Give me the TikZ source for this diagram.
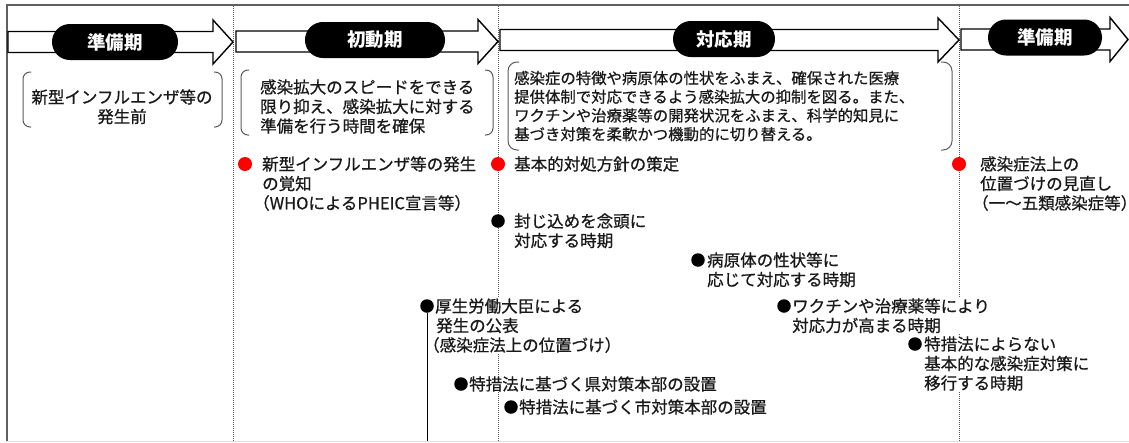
\documentclass[tikz,border=0pt]{standalone}
\usepackage{fontspec}
\setmainfont{Noto Sans CJK JP}
\newfontfamily\medfont{Noto Sans CJK JP}[FakeBold=0.7]
\newcommand\Lb[1]{\vtop{\let\\\cr\halign{##\hfil\cr#1\crcr}}}
\newcommand\Cb[1]{\vtop{\let\\\cr\halign{\hfil##\hfil\cr#1\crcr}}}
\definecolor{frm}{HTML}{606060}
\definecolor{brk}{HTML}{5A5A5A}
\tikzset{
  arr/.style={draw=black, fill=white, line width=1.4pt, line join=miter},
  pill/.style={fill=black, rounded corners=17.9pt, minimum height=36pt, inner sep=0pt,
    text=white, font={\fontsize{18.5}{20}\selectfont\bfseries}},
  txt/.style={inner sep=0pt, fill=white, text=black!90, font={\medfont\fontsize{16.5}{19.5}\selectfont}},
  txts/.style={inner sep=0pt, text=black!90, font={\medfont\fontsize{15.4}{18.7}\selectfont}},
  rdot/.style={circle, fill=red, minimum size=14pt, inner sep=0pt},
  bdot/.style={circle, fill=black, minimum size=13.5pt, inner sep=0pt},
  dotline/.style={draw=gray!70!black, line width=0.7pt, dash pattern=on 1pt off 1pt},
  bracket/.style={draw=brk, line width=1pt},
}
\begin{document}
\begin{tikzpicture}[x=1pt, y=-1pt]
\useasboundingbox (0,0) rectangle (1129,442);
% frame
\draw[frm, line width=2pt] (7,4.5) -- (7,441);
\draw[frm, line width=1.5pt] (6,5) -- (1129,5);
\draw[gray!25, line width=1pt] (7,441.5) -- (1129,441.5);
% dotted separators
\draw[dotline] (233,6) -- (233,441);
\draw[dotline] (498,6) -- (498,441);
\draw[dotline] (959,6) -- (959,441);
% arrows
\draw[arr] (8,31.5) -- (213,31.5) -- (213,20) -- (233,42) -- (213,64) -- (213,52.5) -- (8,52.5) -- cycle;
\draw[arr] (236,31) -- (478,31) -- (478,19.5) -- (498,41.5) -- (478,63.5) -- (478,52) -- (236,52) -- cycle;
\draw[arr] (500,29.5) -- (938,29.5) -- (938,18) -- (959,40) -- (938,62) -- (938,50.5) -- (500,50.5) -- cycle;
\draw[arr] (961,29) -- (1110,29) -- (1110,17.5) -- (1128,39.5) -- (1110,61.5) -- (1110,50) -- (961,50) -- cycle;
% pills
\node[pill, minimum width=126pt] (p1) at (115,42) {準備期};
\node[pill, minimum width=140pt] (p2) at (375,40) {初動期};
\node[pill, minimum width=102pt] (p3) at (724,39) {対応期};
\node[pill, minimum width=114pt] (p4) at (1045,37.5) {準備期};
% brackets
\draw[bracket, rounded corners=7pt] (31,72) -- (23,72) -- (23,127) -- (31,127);
\draw[bracket, rounded corners=7pt] (214,72) -- (222,72) -- (222,127) -- (214,127);
\draw[bracket, rounded corners=7pt] (249,70) -- (241,70) -- (241,135) -- (249,135);
\draw[bracket, rounded corners=7pt] (485,70) -- (493,70) -- (493,135) -- (485,135);
\draw[bracket, rounded corners=9pt] (519,62) -- (508,62) -- (508,150) -- (519,150);
\draw[bracket, rounded corners=9pt] (941,62) -- (952,62) -- (952,150) -- (941,150);
% bracket texts
\node[txt, anchor=base] (t1) at (122,103.3) {\Cb{新型インフルエンザ等の\\発生前}};
\node[txt, anchor=base west] (t2) at (260,93.3) {\Lb{感染拡大のスピードをできる\\限り抑え、感染拡大に対する\\準備を行う時間を確保}};
\node[txts, anchor=base west] (t3) at (514,83.9) {\Lb{感染症の特徴や病原体の性状をふまえ、確保された医療\\提供体制で対応できるよう感染拡大の抑制を図る。また、\\ワクチンや治療薬等の開発状況をふまえ、科学的知見に\\基づき対策を柔軟かつ機動的に切り替える。}};
% events
\node[rdot] (r1) at (245,164) {};
\node[txt, anchor=base west] (r1t) at (262,170.3) {\Lb{新型インフルエンザ等の発生\\の覚知\\\kern-9pt（WHOによるPHEIC宣言等）}};
\node[rdot] (r2) at (498,164) {};
\node[txt, anchor=base west] (r2t) at (514,170.3) {基本的対処方針の策定};
\node[rdot] (r3) at (959,164) {};
\node[txt, anchor=base west] (r3t) at (980,170.3) {\Lb{感染症法上の\\位置づけの見直し\\\kern-8pt（一～五類感染症等）\kern-9pt}};
\node[bdot] (b1) at (498,221) {};
\node[txt, anchor=base west] (b1t) at (514,227.3) {\Lb{封じ込めを念頭に\\対応する時期}};
\node[bdot] (b2) at (698,260) {};
\node[txt, anchor=base west] (b2t) at (707,266.3) {\Lb{病原体の性状等に\\応じて対応する時期}};
\node[bdot] (b3) at (427,306) {};
\coordinate (b3end) at (427,441);
\draw[black, line width=1pt] (b3) -- (b3end);
\node[txt, anchor=base west] (b3t) at (435,312.3) {\Lb{厚生労働大臣による\\\kern1pt 発生の公表\\\kern-12pt（感染症法上の位置づけ）}};
\node[bdot] (b6) at (784,306) {};
\node[txt, anchor=base west] (b6t) at (792,312.3) {\Lb{ワクチンや治療薬等により\\対応力が高まる時期}};
\node[bdot] (b7) at (915,344) {};
\node[txt, anchor=base west] (b7t) at (924,350.3) {\Lb{特措法によらない\\基本的な感染症対策に\\移行する時期}};
\node[bdot] (b4) at (461,384) {};
\node[txt, anchor=base west] (b4t) at (469,390.3) {特措法に基づく県対策本部の設置};
\node[bdot] (b5) at (511,407) {};
\node[txt, anchor=base west] (b5t) at (519,413.3) {特措法に基づく市対策本部の設置};
\end{tikzpicture}
\end{document}
